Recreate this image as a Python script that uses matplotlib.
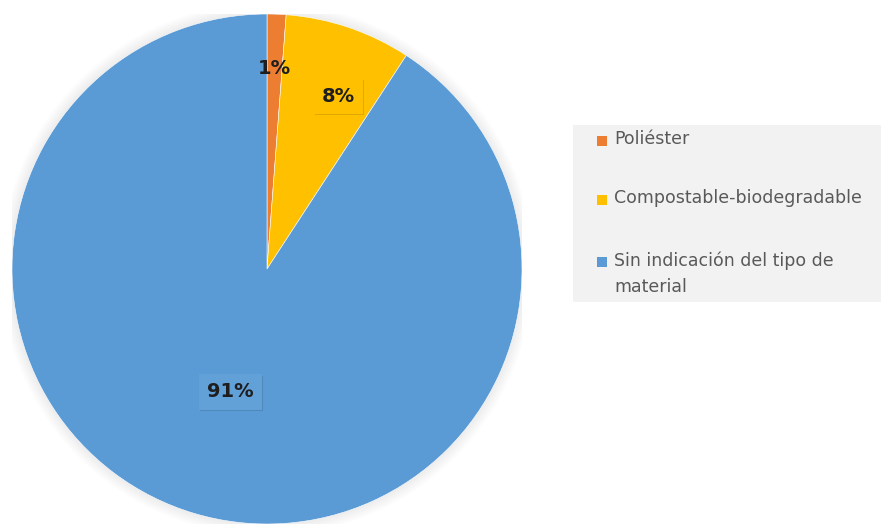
import matplotlib
matplotlib.use('Agg')
import matplotlib.pyplot as plt
import matplotlib.patheffects as pe
from matplotlib.patches import Rectangle, Circle

plt.rcParams['font.family'] = ['DejaVu Sans']

# --- data ---
categories = ['Poliéster', 'Compostable-biodegradable',
              'Sin indicación del tipo de\nmaterial']
shares = [1.2, 8.0, 90.8]
colors = ['#ED7D31', '#FFC000', '#5B9BD5']

# label anchor points (data coords, pie radius = 1)
label_pos = [(0.027, 0.788), (0.278, 0.678), (-0.145, -0.482)]
label_face = ['none', '#FFC000', '#62A1D8']

W, H = 881, 525
fig = plt.figure(figsize=(W / 100, H / 100), dpi=100)

cx, cy, r = 267, 269, 255
ax = fig.add_axes([(cx - r) / W, 1 - (cy + r) / H, 2 * r / W, 2 * r / H])

# soft halo behind the pie
for i in range(10):
    ax.add_patch(Circle((0.0, 0.0), 1 + 0.005 * i, color='black',
                        alpha=0.008, lw=0, zorder=0))

ax.pie(shares, colors=colors, startangle=90, counterclock=False,
       radius=1, wedgeprops=dict(edgecolor='white', linewidth=0.4),
       frame=True)
ax.set_xlim(-1, 1)
ax.set_ylim(-1, 1)
ax.set_aspect('equal')
ax.axis('off')

for v, (x, y), fc in zip(shares, label_pos, label_face):
    t = ax.text(x, y, f'{v:.0f}%', ha='center', va='center', fontsize=14,
                fontweight='bold', color='#1E1E1E', zorder=5,
                bbox=dict(boxstyle='square,pad=0.42', fc=fc, ec='none'))
    if fc != 'none':
        t.get_bbox_patch().set_path_effects(
            [pe.withSimplePatchShadow(offset=(1.2, -1.2), shadow_rgbFace='black',
                                      alpha=0.12), pe.Normal()])

# legend panel
fig.patches.append(Rectangle((573 / W, 1 - 302 / H), (W - 573) / W, 177 / H,
                             transform=fig.transFigure, fc='#F2F2F2',
                             ec='none', zorder=0))
rows_y = [141, 200, 262]
for name, col, y in zip(categories, colors, rows_y):
    fig.patches.append(Rectangle((597 / W, 1 - (y + 5) / H), 10 / W, 10 / H,
                                 transform=fig.transFigure, fc=col, ec='none'))
    fig.text(614 / W, 1 - (y - 11) / H, name, ha='left', va='top',
             fontsize=12.5, color='#595959', linespacing=1.6)

fig.savefig('out.png', dpi=100)
